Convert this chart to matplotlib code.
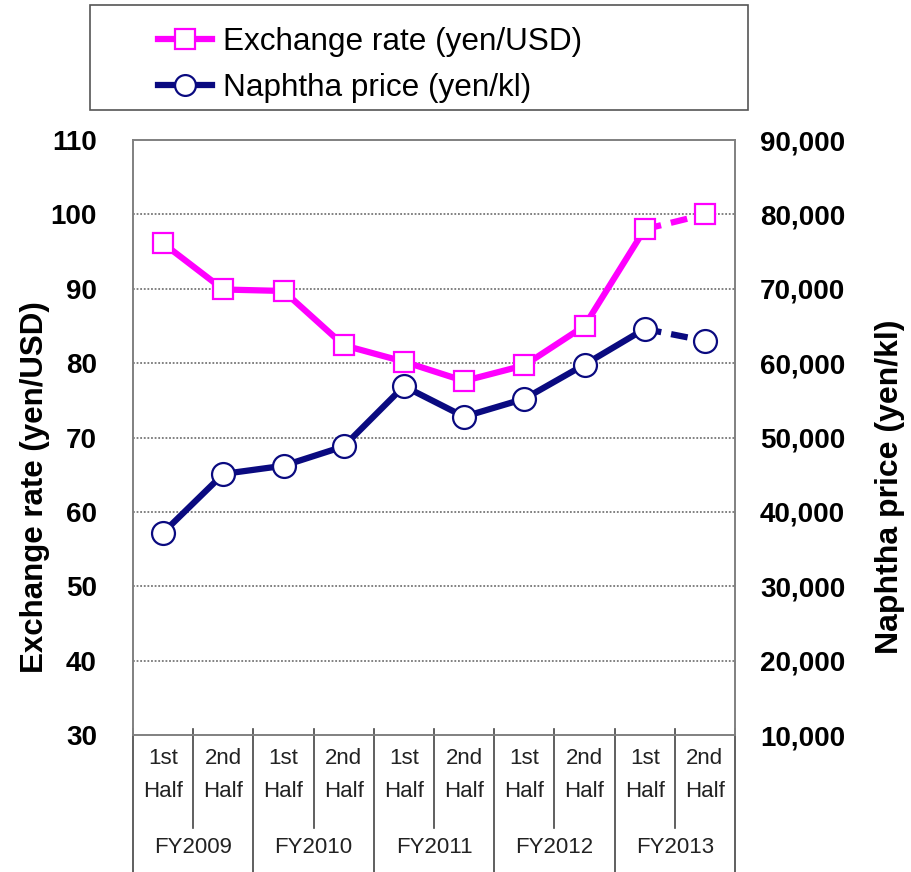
import matplotlib
matplotlib.use("Agg")
import matplotlib.pyplot as plt
from matplotlib.lines import Line2D
from matplotlib.patches import Rectangle
from matplotlib import transforms
from matplotlib.ticker import FuncFormatter

plt.rcParams['font.family'] = ['Liberation Sans', 'DejaVu Sans']

# data
halves = ["1st\nHalf", "2nd\nHalf"] * 5
years = ["FY2009", "FY2010", "FY2011", "FY2012", "FY2013"]
exchange_rate = [96.1, 89.9, 89.7, 82.4, 80.2, 77.6, 79.7, 85.0, 98.0, 100.0]
naphtha_price = [37200, 45100, 46200, 48800, 56900, 52800, 55200, 59800, 64600, 63000]

W, H = 911, 872
fig = plt.figure(figsize=(W / 100, H / 100), dpi=100)
ax = fig.add_axes([133 / W, 1 - 735 / H, (735 - 133) / W, (735 - 140) / H])
ax2 = ax.twinx()

pink = "#FF00FF"
navy = "#0A0A80"
x = list(range(len(exchange_rate)))
n = len(x) - 1  # last point is a forecast -> dashed segment

def draw(a, y, color, marker, ms):
    a.plot(x[:n], y[:n], color=color, lw=4.5, zorder=3)
    a.plot(x[n - 1:], y[n - 1:], color=color, lw=4.5, ls=(0, (2.7, 1.6)), zorder=3)
    a.plot(x, y, ls="none", marker=marker, ms=ms, mfc="white", mec=color, mew=1.6, zorder=4)

draw(ax, exchange_rate, pink, "s", 14.5)
draw(ax2, naphtha_price, navy, "o", 16.5)

ax.set_xlim(-0.5, len(x) - 0.5)
ax.set_ylim(30, 110)
ax.set_yticks(range(30, 111, 10))
ax2.set_ylim(10000, 90000)
ax2.set_yticks(range(10000, 90001, 10000))
ax2.yaxis.set_major_formatter(FuncFormatter(lambda v, p: f"{int(v):,}"))

for gy in range(40, 101, 10):
    ax.axhline(gy, color="#777777", lw=1.3, ls=(0, (1, 1)), zorder=1)

ax.set_xticks([])
for a in (ax, ax2):
    for s in a.spines.values():
        s.set_color("#808080")
        s.set_linewidth(1.2)
ax.tick_params(axis="y", length=0, pad=26, labelsize=20)
ax2.tick_params(axis="y", length=0, pad=18, labelsize=20)
for lbl in ax.get_yticklabels() + ax2.get_yticklabels():
    lbl.set_fontweight("bold")

fig.text(35 / W, 1 - 487 / H, "Exchange rate (yen/USD)", rotation=90, fontsize=22.5,
         fontweight="bold", ha="center", va="center")
fig.text(890 / W, 1 - 487 / H, "Naphtha price (yen/kl)", rotation=90, fontsize=23,
         fontweight="bold", ha="center", va="center")

# category table below the axis
tr = transforms.blended_transform_factory(ax.transData, fig.transFigure)
def fy(px):
    return 1 - px / H
for i, lab in enumerate(halves):
    ax.text(i, fy(775), lab, transform=tr, ha="center", va="center", fontsize=16,
            color="#222222", linespacing=1.7, clip_on=False)
for j, yr in enumerate(years):
    ax.text(2 * j + 0.5, fy(847), yr, transform=tr, ha="center", va="center",
            fontsize=16, color="#222222", clip_on=False)
for k in range(len(x) + 1):
    bottom = 872 if k % 2 == 0 else 828
    ax.plot([k - 0.5, k - 0.5], [fy(729), fy(bottom)], transform=tr, color="#444444",
            lw=1.2, clip_on=False)

# legend
fig.patches.append(Rectangle((90 / W, 1 - 110 / H), 658 / W, 105 / H, transform=fig.transFigure,
                             fill=False, edgecolor="#555555", lw=1.2))
handles = [
    Line2D([], [], color=pink, lw=4.5, marker="s", ms=14.5, mfc="white", mec=pink, mew=1.6),
    Line2D([], [], color=navy, lw=4.5, marker="o", ms=15, mfc="white", mec=navy, mew=1.6),
]
fig.legend(handles, ["Exchange rate (yen/USD)", "Naphtha price (yen/kl)"],
           loc="center left", bbox_to_anchor=(158 / W, 1 - 65 / H), frameon=False,
           fontsize=22.7, handlelength=1.7, handletextpad=0.35, labelspacing=0.48,
           borderpad=0, borderaxespad=0)

fig.savefig("out.png", dpi=100)
